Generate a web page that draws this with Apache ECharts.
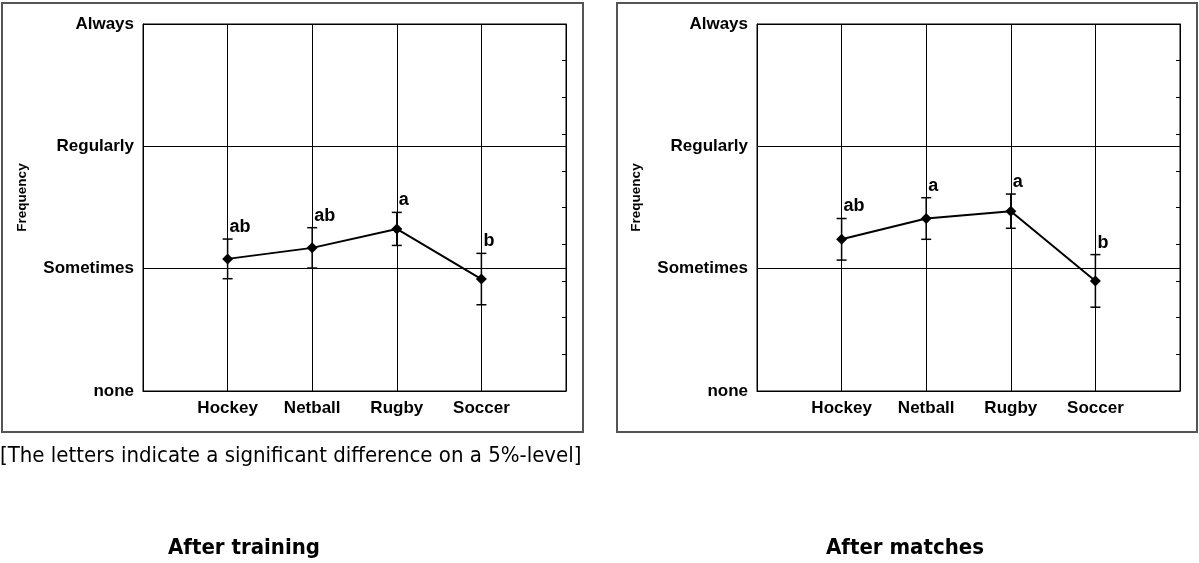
<!DOCTYPE html>
<html><head><meta charset="utf-8">
<script src="https://cdn.jsdelivr.net/npm/echarts@6/dist/echarts.min.js"></script>
<style>html,body{margin:0;padding:0;background:#fff}#c{width:1199px;height:563px}</style>
</head><body><div id="c"></div>
<script>
// ---- data ----
const categories = ['Hockey', 'Netball', 'Rugby', 'Soccer'];
const levelLabels = ['none', 'Sometimes', 'Regularly', 'Always'];
const trainingMean = [1.08, 1.17, 1.325, 0.915];
const trainingErr = [0.162, 0.165, 0.135, 0.21];
const trainingLetters = ['ab', 'ab', 'a', 'b'];
const matchesMean = [1.24, 1.41, 1.47, 0.90];
const matchesErr = [0.17, 0.17, 0.14, 0.215];
const matchesLetters = ['ab', 'a', 'a', 'b'];
const panelTitles = ['After training', 'After matches'];
const note = '[The letters indicate a significant difference on a 5%-level]';

const panels = [
  { mean: trainingMean, err: trainingErr, letters: trainingLetters, left: 143 },
  { mean: matchesMean, err: matchesErr, letters: matchesLetters, left: 757 }
];

const boldFont = 'Liberation Sans';
const grids = [], xAxes = [], yAxes = [], series = [];

panels.forEach((p, i) => {
  grids.push({ left: p.left, top: 24, width: 423, height: 367, show: true, borderColor: '#000', borderWidth: 1, backgroundColor: 'transparent' });
  xAxes.push({
    gridIndex: i, type: 'value', min: 0, max: 5, interval: 1,
    axisLine: { show: true, onZero: false, lineStyle: { color: '#000', width: 1 } },
    axisTick: { show: false },
    splitLine: { show: true, lineStyle: { color: '#000', width: 1 } },
    axisLabel: {
      formatter: v => (v >= 1 && v <= 4) ? categories[v - 1] : '',
      fontFamily: boldFont, fontWeight: 'bold', fontSize: 17, color: '#000', margin: 9
    }
  });
  yAxes.push({
    gridIndex: i, type: 'value', min: 0, max: 3, interval: 1,
    name: 'Frequency', nameLocation: 'middle', nameGap: 114, nameRotate: 90,
    nameTextStyle: { fontFamily: boldFont, fontWeight: 'bold', fontSize: 13.5, color: '#000', padding: [0, 0, 0, 20] },
    axisLine: { show: true, lineStyle: { color: '#000', width: 1 } },
    axisTick: { show: false },
    splitLine: { show: true, lineStyle: { color: '#000', width: 1 } },
    axisLabel: {
      formatter: v => levelLabels[Math.round(v)] || '',
      fontFamily: boldFont, fontWeight: 'bold', fontSize: 17, color: '#000', margin: 9
    }
  });
  yAxes.push({
    gridIndex: i, type: 'value', position: 'right', min: 0, max: 3, interval: 0.3,
    axisLine: { show: true, lineStyle: { color: '#000', width: 1 } },
    axisTick: { show: true, inside: true, length: 4, lineStyle: { color: '#000', width: 1 } },
    axisLabel: { show: false },
    splitLine: { show: false }
  });
  series.push({
    type: 'custom', xAxisIndex: i, yAxisIndex: 2 * i, z: 4,
    data: p.mean.map((v, k) => [k + 1, v - p.err[k], v + p.err[k]]),
    encode: { x: 0, y: [1, 2] },
    renderItem: (params, api) => {
      const x = api.value(0);
      const lo = api.coord([x, api.value(1)]);
      const hi = api.coord([x, api.value(2)]);
      const hw = 5;
      const st = { stroke: '#000', lineWidth: 1.5 };
      return {
        type: 'group', children: [
          { type: 'line', shape: { x1: lo[0], y1: lo[1], x2: hi[0], y2: hi[1] }, style: st },
          { type: 'line', shape: { x1: hi[0] - hw, y1: hi[1], x2: hi[0] + hw, y2: hi[1] }, style: st },
          { type: 'line', shape: { x1: lo[0] - hw, y1: lo[1], x2: lo[0] + hw, y2: lo[1] }, style: st },
          { type: 'text', x: hi[0] + 2, y: hi[1] - 12, style: {
              text: p.letters[params.dataIndex], fill: '#000',
              font: 'bold 18px "Liberation Sans"', textAlign: 'left',
              verticalAlign: 'middle', textVerticalAlign: 'middle' } }
        ]
      };
    }
  });
  series.push({
    type: 'line', xAxisIndex: i, yAxisIndex: 2 * i, z: 5,
    data: p.mean.map((v, k) => [k + 1, v]),
    symbol: 'diamond', symbolSize: 11,
    itemStyle: { color: '#000' },
    lineStyle: { color: '#000', width: 2 }
  });
});

const chart = echarts.init(document.getElementById('c'), null, { renderer: 'canvas' });
chart.setOption({
  animation: false,
  backgroundColor: '#fff',
  grid: grids, xAxis: xAxes, yAxis: yAxes, series: series,
  graphic: [
    { type: 'rect', shape: { x: 2, y: 3, width: 581, height: 429 }, style: { fill: 'none', stroke: '#555', lineWidth: 2 }, z: 0 },
    { type: 'rect', shape: { x: 617, y: 3, width: 580, height: 429 }, style: { fill: 'none', stroke: '#555', lineWidth: 2 }, z: 0 },
    { type: 'text', x: 0, y: 456, style: { text: note, font: '22px "DejaVu Sans Condensed"', fill: '#000', textAlign: 'left', verticalAlign: 'middle', textVerticalAlign: 'middle' } },
    { type: 'text', x: 244, y: 548, style: { text: panelTitles[0], font: 'bold 22px "DejaVu Sans Condensed"', fill: '#000', textAlign: 'center', verticalAlign: 'middle', textVerticalAlign: 'middle' } },
    { type: 'text', x: 905, y: 548, style: { text: panelTitles[1], font: 'bold 22px "DejaVu Sans Condensed"', fill: '#000', textAlign: 'center', verticalAlign: 'middle', textVerticalAlign: 'middle' } }
  ]
});
</script>
</body></html>
